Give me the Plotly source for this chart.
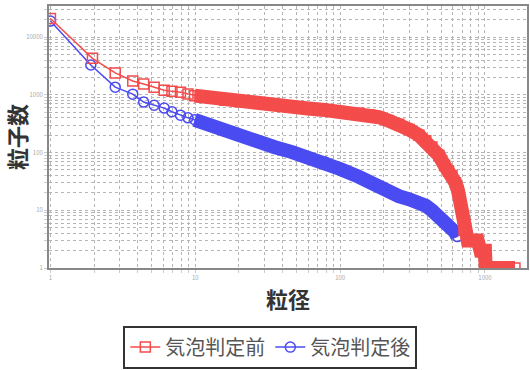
import plotly.graph_objects as go

# ---- data ----
red_name = "気泡判定前"
blue_name = "気泡判定後"

red_x = [1, 1.95, 2.8, 3.7, 4.4, 5.2, 6.1, 6.9, 7.9, 8.9, 9.9, 10.8, 13, 16, 20, 27.5, 35, 46.6,
         60, 78.6, 100, 135, 160, 185, 215, 254, 300, 350, 390, 430, 480, 526, 560, 592, 625,
         651, 675, 694, 717, 760, 890, 930, 1000, 1010, 1610]
red_y = [21000, 4300, 2400, 1740, 1540, 1360, 1200, 1150, 1110, 1040, 970, 940, 880, 810, 770,
         720, 660, 610, 580, 545, 515, 480, 450, 410, 360, 310, 250, 200, 160, 125, 90, 60, 48,
         40, 30, 22, 15, 10, 4.5, 3, 3, 2, 2, 1, 1]

blue_x = [1, 1.9, 2.8, 3.7, 4.4, 5.2, 6.1, 6.9, 7.9, 8.9, 9.9, 10.8, 13, 16, 20, 27.5, 35, 46.6,
          60, 78.6, 100, 135, 160, 185, 215, 254, 300, 350, 390, 430, 480, 526, 580, 620, 645]
blue_y = [19000, 3300, 1360, 1030, 750, 660, 590, 510, 445, 400, 370, 340, 290, 235, 195, 152,
          125, 102, 85, 69, 52, 38, 30, 25, 21, 17.6, 15.5, 13.8, 12, 10, 8, 6.3, 5, 4.2, 3.5]

x_tick_vals = [1, 2, 3, 4, 5, 6, 7, 8, 9, 10, 20, 30, 40, 50, 60, 70, 80, 90,
               100, 200, 300, 400, 500, 600, 700, 800, 900, 1000, 2000]
y_tick_vals = [1, 2, 3, 4, 5, 6, 7, 8, 9, 10, 20, 30, 40, 50, 60, 70, 80, 90,
               100, 200, 300, 400, 500, 600, 700, 800, 900, 1000, 2000, 3000, 4000,
               5000, 6000, 7000, 8000, 9000, 10000, 20000, 30000]
decade_labels = {1: "1", 10: "10", 100: "100", 1000: "1000", 10000: "10000"}

x_title = "粒径"
y_title = "粒子数"

RED = "#F44B4B"
BLUE = "#4B4BF2"
FONT = "Noto Sans CJK JP"

dense_from = 10  # index where the markers merge into a solid band

fig = go.Figure()

# blue band + series
fig.add_trace(go.Scatter(x=blue_x[dense_from:], y=blue_y[dense_from:], mode="lines",
                         line=dict(color=BLUE, width=14), showlegend=False, hoverinfo="skip"))
fig.add_trace(go.Scatter(x=blue_x, y=blue_y, mode="lines+markers", name=blue_name,
                         line=dict(color=BLUE, width=1.5),
                         marker=dict(symbol="circle-open", size=10, color=BLUE,
                                     line=dict(width=1.5, color=BLUE)),
                         legendrank=2))
# red band + series
fig.add_trace(go.Scatter(x=red_x[dense_from:], y=red_y[dense_from:], mode="lines",
                         line=dict(color=RED, width=14), showlegend=False, hoverinfo="skip"))
fig.add_trace(go.Scatter(x=red_x, y=red_y, mode="lines+markers", name=red_name,
                         line=dict(color=RED, width=1.5),
                         marker=dict(symbol="square-open", size=10, color=RED,
                                     line=dict(width=1.5, color=RED)),
                         legendrank=1))

axis_common = dict(
    type="log", automargin=False,
    showgrid=True, gridcolor="#b5b5b5", griddash="dot", gridwidth=1,
    showline=True, mirror=True, linecolor="#888", linewidth=2,
    ticks="outside", ticklen=3, tickcolor="#ccc",
    tickfont=dict(size=6, color="#aaa", family=FONT),
    zeroline=False,
)

fig.update_xaxes(**axis_common, range=[-0.01, 3.29],
                 tickvals=x_tick_vals, ticktext=[decade_labels.get(v, "") for v in x_tick_vals],
                 title=dict(text=x_title, standoff=11,
                            font=dict(size=22, color="#333", family=FONT, weight="bold")))
fig.update_yaxes(**axis_common, range=[0, 4.54],
                 tickvals=y_tick_vals, ticktext=[decade_labels.get(v, "") for v in y_tick_vals],
                 title=dict(text=y_title, standoff=2,
                            font=dict(size=22, color="#333", family=FONT, weight="bold")))

fig.update_layout(
    width=530, height=370, template="none",
    margin=dict(l=49, r=3, t=6, b=102, autoexpand=False),
    paper_bgcolor="white", plot_bgcolor="white",
    font=dict(family=FONT),
    legend=dict(orientation="h", x=0.463, y=-0.302, xanchor="center", yanchor="middle",
                bordercolor="#333", borderwidth=2, bgcolor="white",
                font=dict(size=20, color="#555", family=FONT), itemwidth=30),
)

fig.write_html("out.html", config={"displayModeBar": False},
               post_script="document.body.style.margin='0px';")
